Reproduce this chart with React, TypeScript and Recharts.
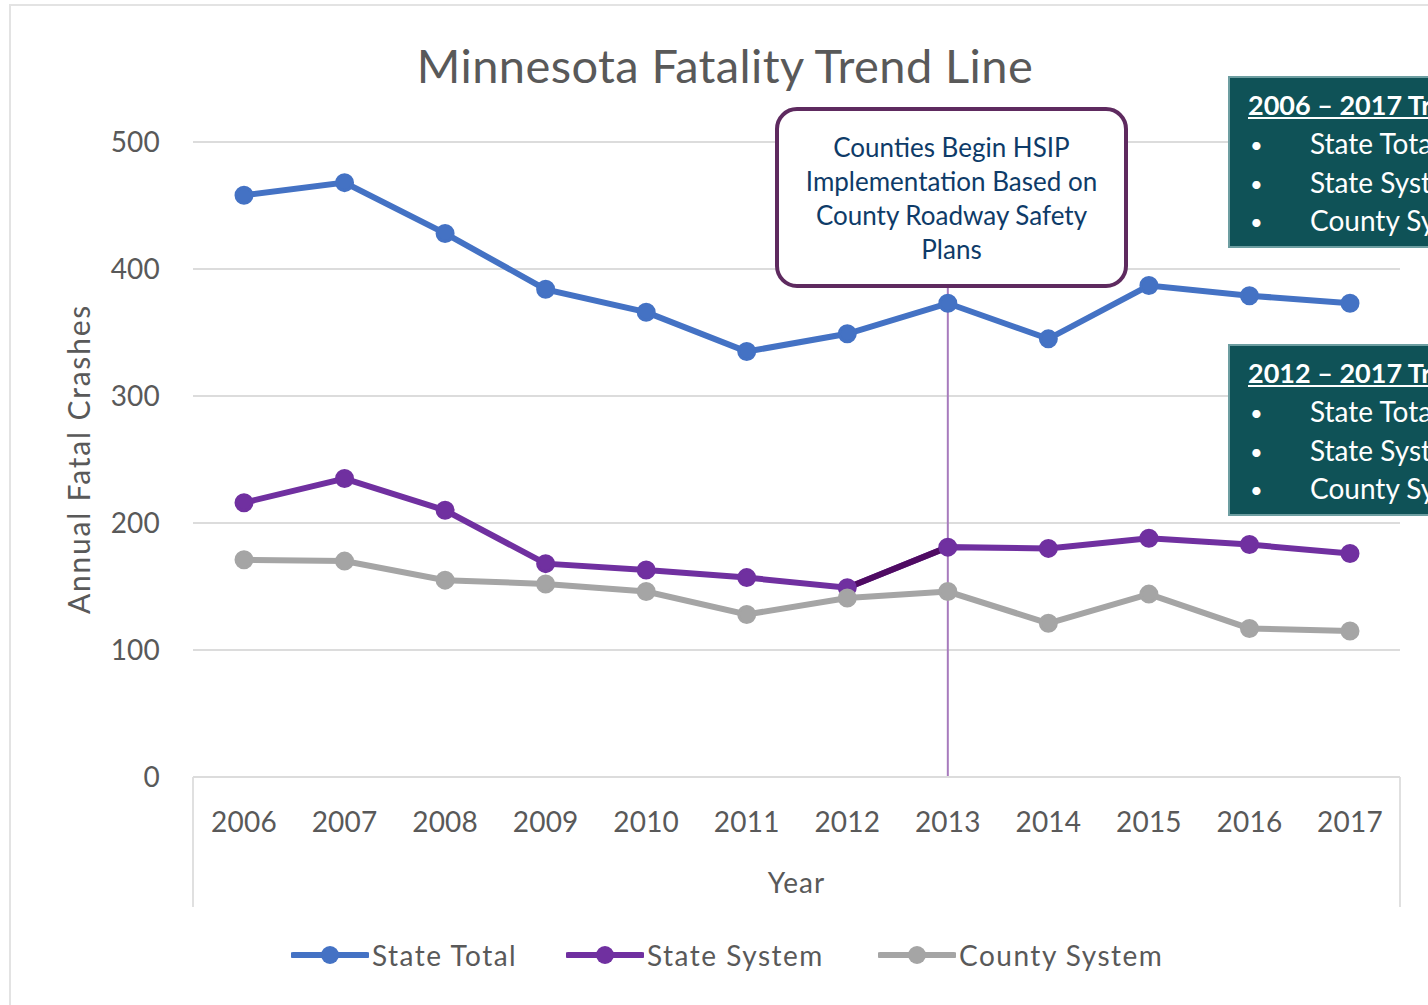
import React from "react";
import { CartesianGrid, Line, LineChart, ReferenceLine, XAxis, YAxis } from "recharts";

const years = ["2006", "2007", "2008", "2009", "2010", "2011", "2012", "2013", "2014", "2015", "2016", "2017"];
const stateTotal = [458, 468, 428, 384, 366, 335, 349, 373, 345, 387, 379, 373];
const stateSystem = [216, 235, 210, 168, 163, 157, 149, 181, 180, 188, 183, 176];
const countySystem = [171, 170, 155, 152, 146, 128, 141, 146, 121, 144, 117, 115];
const highlightYears = ["2012", "2013"];
const yTicks = [0, 100, 200, 300, 400, 500];

const series = [
  { key: "stateTotal", name: "State Total", color: "#4472c4" },
  { key: "stateSystem", name: "State System", color: "#7030a0" },
  { key: "countySystem", name: "County System", color: "#a5a5a5" },
];

const data = years.map((year, i) => ({
  year,
  stateTotal: stateTotal[i],
  stateSystem: stateSystem[i],
  countySystem: countySystem[i],
  highlight: highlightYears.includes(year) ? stateSystem[i] : null,
}));

const FONT = "Lato, 'Open Sans', sans-serif";
const GRAY = "#595959";
const TEAL = "#0f5257";

function TrendPanel({ top, title }: { top: number; title: string }) {
  return (
    <div
      style={{
        position: "absolute",
        left: 1228,
        top,
        width: 400,
        height: 172,
        background: TEAL,
        border: "2px solid #6d9ea1",
        boxSizing: "border-box",
        color: "#fff",
        fontFamily: FONT,
      }}
    >
      <div style={{ position: "absolute", left: 18, top: 10, fontSize: 27, fontWeight: 700, textDecoration: "underline", whiteSpace: "nowrap" }}>
        {title}
      </div>
      {["State Total", "State System", "County System"].map((t, i) => (
        <div key={t} style={{ position: "absolute", left: 20, top: 48 + i * 38.5, fontSize: 28, whiteSpace: "nowrap" }}>
          <span style={{ display: "inline-block", width: 60, fontSize: 22, verticalAlign: "top", lineHeight: "38px" }}>•</span>
          {t}
        </div>
      ))}
    </div>
  );
}

export default function App() {
  return (
    <div style={{ position: "absolute", left: 0, top: 0, width: 1428, height: 1005, overflow: "hidden", background: "#fff", fontFamily: FONT }}>
      <div style={{ position: "absolute", left: 9, top: 4, width: 1500, height: 1100, border: "2px solid #e3e3e3" }} />
      <div style={{ position: "absolute", left: 0, width: 1450, top: 37, textAlign: "center", fontSize: 47, color: GRAY, letterSpacing: 0.4 }}>
        Minnesota Fatality Trend Line
      </div>
      <div
        style={{
          position: "absolute",
          left: 78,
          top: 459,
          transform: "translate(-50%, -50%) rotate(-90deg)",
          fontSize: 30,
          letterSpacing: 1.8,
          color: GRAY,
          whiteSpace: "nowrap",
        }}
      >
        Annual Fatal Crashes
      </div>
      {/* axis frame below the plot */}
      <div style={{ position: "absolute", left: 192, top: 777, width: 2, height: 130, background: "#e0e0e0" }} />
      <div style={{ position: "absolute", left: 1399, top: 777, width: 2, height: 130, background: "#e0e0e0" }} />

      <div style={{ position: "absolute", left: 0, top: 0 }}>
        <LineChart width={1428} height={1005} data={data} margin={{ top: 142, right: 28, left: 93, bottom: 108 }}>
          <CartesianGrid vertical={false} stroke="#dcdcdc" strokeWidth={2} />
          <XAxis
            dataKey="year"
            padding={{ left: 51, right: 50 }}
            height={120}
            tickLine={false}
            tickSize={0}
            tickMargin={35}
            axisLine={{ stroke: "#dcdcdc", strokeWidth: 2 }}
            tick={{ fill: GRAY, fontSize: 28, fontFamily: FONT, letterSpacing: 0.2 }}
            label={{ value: "Year", position: "insideBottom", offset: 4, fill: GRAY, fontSize: 28, fontFamily: FONT, letterSpacing: 1 }}
          />
          <YAxis
            width={100}
            domain={[0, 500]}
            ticks={yTicks}
            axisLine={false}
            tickLine={false}
            tickSize={0}
            tickMargin={33}
            tick={{ fill: GRAY, fontSize: 28, fontFamily: FONT, letterSpacing: 0.2 }}
          />
          <ReferenceLine x="2013" stroke="#a77bbd" strokeWidth={2} />
          {series.map((s) => (
            <Line
              key={s.key}
              dataKey={s.key}
              name={s.name}
              stroke={s.color}
              strokeWidth={6}
              dot={{ r: 8, fill: s.color, stroke: s.color, strokeWidth: 3 }}
              isAnimationActive={false}
            />
          ))}
          <Line dataKey="highlight" stroke="#4f0b62" strokeWidth={6} dot={false} isAnimationActive={false} legendType="none" />
        </LineChart>
      </div>

      <div
        style={{
          position: "absolute",
          left: 775,
          top: 107,
          width: 353,
          height: 181,
          border: "4px solid #5e2a5f",
          borderRadius: 22,
          background: "#fff",
          boxSizing: "border-box",
          color: "#0e3b68",
          fontSize: 26,
          lineHeight: "34px",
          textAlign: "center",
          paddingTop: 19,
        }}
      >
        Counties Begin HSIP
        <br />
        Implementation Based on
        <br />
        County Roadway Safety
        <br />
        Plans
      </div>

      <TrendPanel top={76} title="2006 – 2017 Trends" />
      <TrendPanel top={344} title="2012 – 2017 Trends" />

      {/* legend */}
      {series.map((s, i) => {
        const lefts = [291, 566, 878];
        return (
          <div key={s.key} style={{ position: "absolute", left: lefts[i], top: 935, height: 40, display: "flex", alignItems: "center" }}>
            <svg width={78} height={24}>
              <line x1={2} y1={12} x2={76} y2={12} stroke={s.color} strokeWidth={6} strokeLinecap="round" />
              <circle cx={39} cy={12} r={9} fill={s.color} />
            </svg>
            <span style={{ fontSize: 28, color: GRAY, marginLeft: 3, letterSpacing: 1.5 }}>{s.name}</span>
          </div>
        );
      })}
    </div>
  );
}
